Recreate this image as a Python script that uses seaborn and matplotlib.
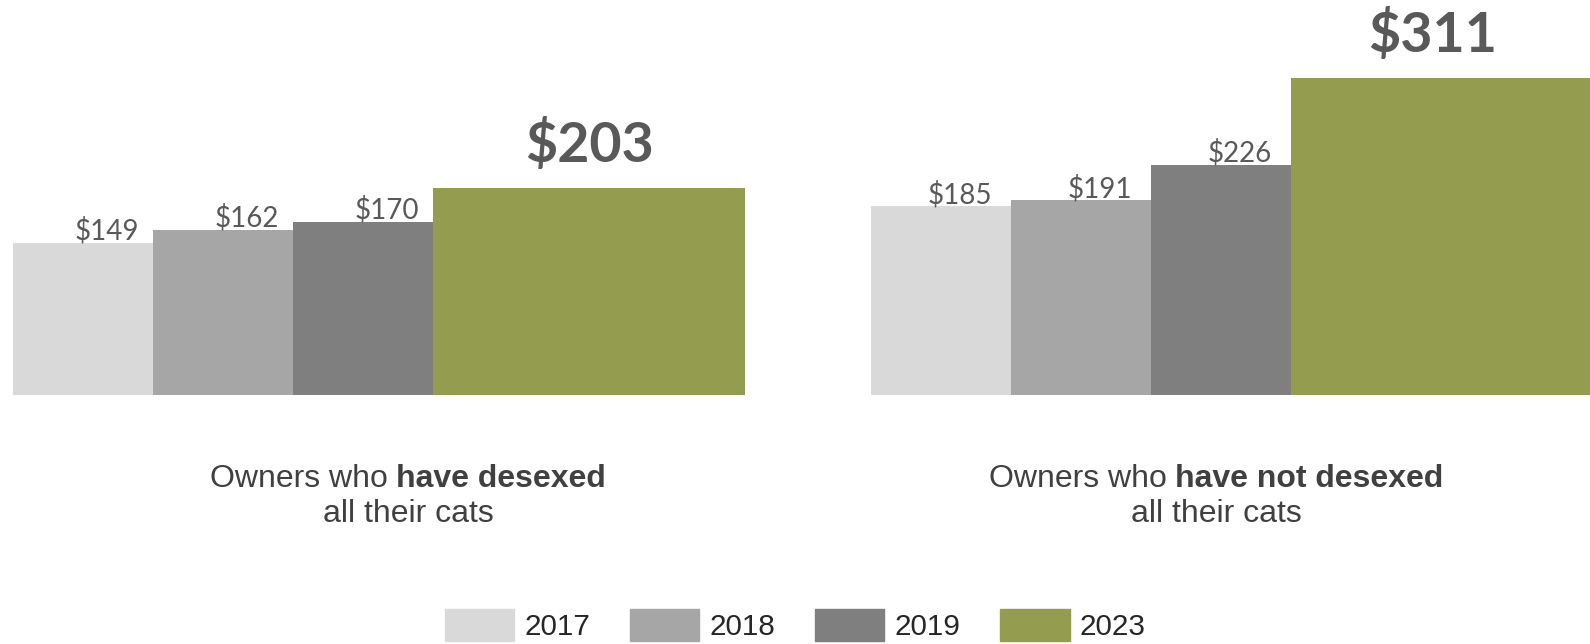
import matplotlib
matplotlib.use("Agg")
import matplotlib.pyplot as plt
import matplotlib.patches as mpatches
import seaborn as sns
import pandas as pd

# data
groups = ["have desexed", "have not desexed"]
years = ["2017", "2018", "2019", "2023"]
desexed = [149, 162, 170, 203]
not_desexed = [185, 191, 226, 311]
colors = ["#D9D9D9", "#A6A6A6", "#7F7F7F", "#949C4F"]

df = pd.DataFrame({
    "group": [g for g in groups for _ in years],
    "year": years * 2,
    "cost": desexed + not_desexed,
})

sns.set_theme(style="white")
plt.rcParams["font.family"] = ["Liberation Sans", "DejaVu Sans"]

W, H = 1590, 644
fig = plt.figure(figsize=(W / 100, H / 100), dpi=100)
ax = fig.add_axes([0, 0, 1, 1])
sns.barplot(data=df, x="group", y="cost", hue="year", palette=colors,
            saturation=1, errorbar=None, legend=False, ax=ax)

# bar widths in units of a narrow bar, 2023 is drawn wider
widths = [1, 1, 1, 2.23]
group_gap = 0.9
group_w = sum(widths) + group_gap
unit_px = 140          # pixels per narrow bar
px_per_dollar = 1.017
small_nudge = [24, 19]  # label shift right of bar centre, px, per group
big_nudge = [0, -15]

for j, cont in enumerate(ax.containers):
    for i, bar in enumerate(cont):
        left = i * group_w + sum(widths[:j])
        bar.set_x(left)
        bar.set_width(widths[j])
        bar.set_linewidth(0)
        val = bar.get_height()
        cx = left + widths[j] / 2
        if j == len(widths) - 1:
            ax.text(cx + big_nudge[i] / unit_px, val + 26 / px_per_dollar, f"${val:.0f}",
                    ha="center", va="baseline", fontsize=40, fontweight="bold",
                    color="#595959", family=["Lato", "DejaVu Sans"])
        else:
            ax.text(cx + small_nudge[i] / unit_px, val + 3 / px_per_dollar, f"${val:.0f}",
                    ha="center", va="baseline", fontsize=20, color="#595959",
                    family=["Lato", "DejaVu Sans"])

ax.set_xlim(-13 / unit_px, (W - 13) / unit_px)
base = H - 394.5
ax.set_ylim(-base / px_per_dollar, (H - base) / px_per_dollar)
ax.axis("off")

cat_size = 23


def two_part(xc, y, normal, bold):
    t1 = fig.text(0, y, normal, fontsize=cat_size, color="#404040", va="baseline")
    t2 = fig.text(0, y, bold, fontsize=cat_size, color="#404040", va="baseline", fontweight="bold")
    r = fig.canvas.get_renderer()
    w1 = t1.get_window_extent(r).width
    w2 = t2.get_window_extent(r).width
    x0 = xc * W - (w1 + w2) / 2
    t1.set_x(x0 / W)
    t2.set_x((x0 + w1) / W)


fig.canvas.draw()
two_part(0.2566, 0.2438, "Owners who ", "have desexed")
fig.text(0.2566, 0.1894, "all their cats", fontsize=cat_size, color="#404040", ha="center", va="baseline")
two_part(0.7648, 0.2438, "Owners who ", "have not desexed")
fig.text(0.7648, 0.1894, "all their cats", fontsize=cat_size, color="#404040", ha="center", va="baseline")

handles = [mpatches.Patch(color=c, label=y) for c, y in zip(colors, years)]
fig.legend(handles=handles, ncol=4, loc="center", bbox_to_anchor=(0.5, 0.03), frameon=False,
           fontsize=21.3, handlelength=2.35, handleheight=1.3, handletextpad=0.33,
           columnspacing=1.35, borderpad=0)

fig.savefig("out.png", dpi=100)
